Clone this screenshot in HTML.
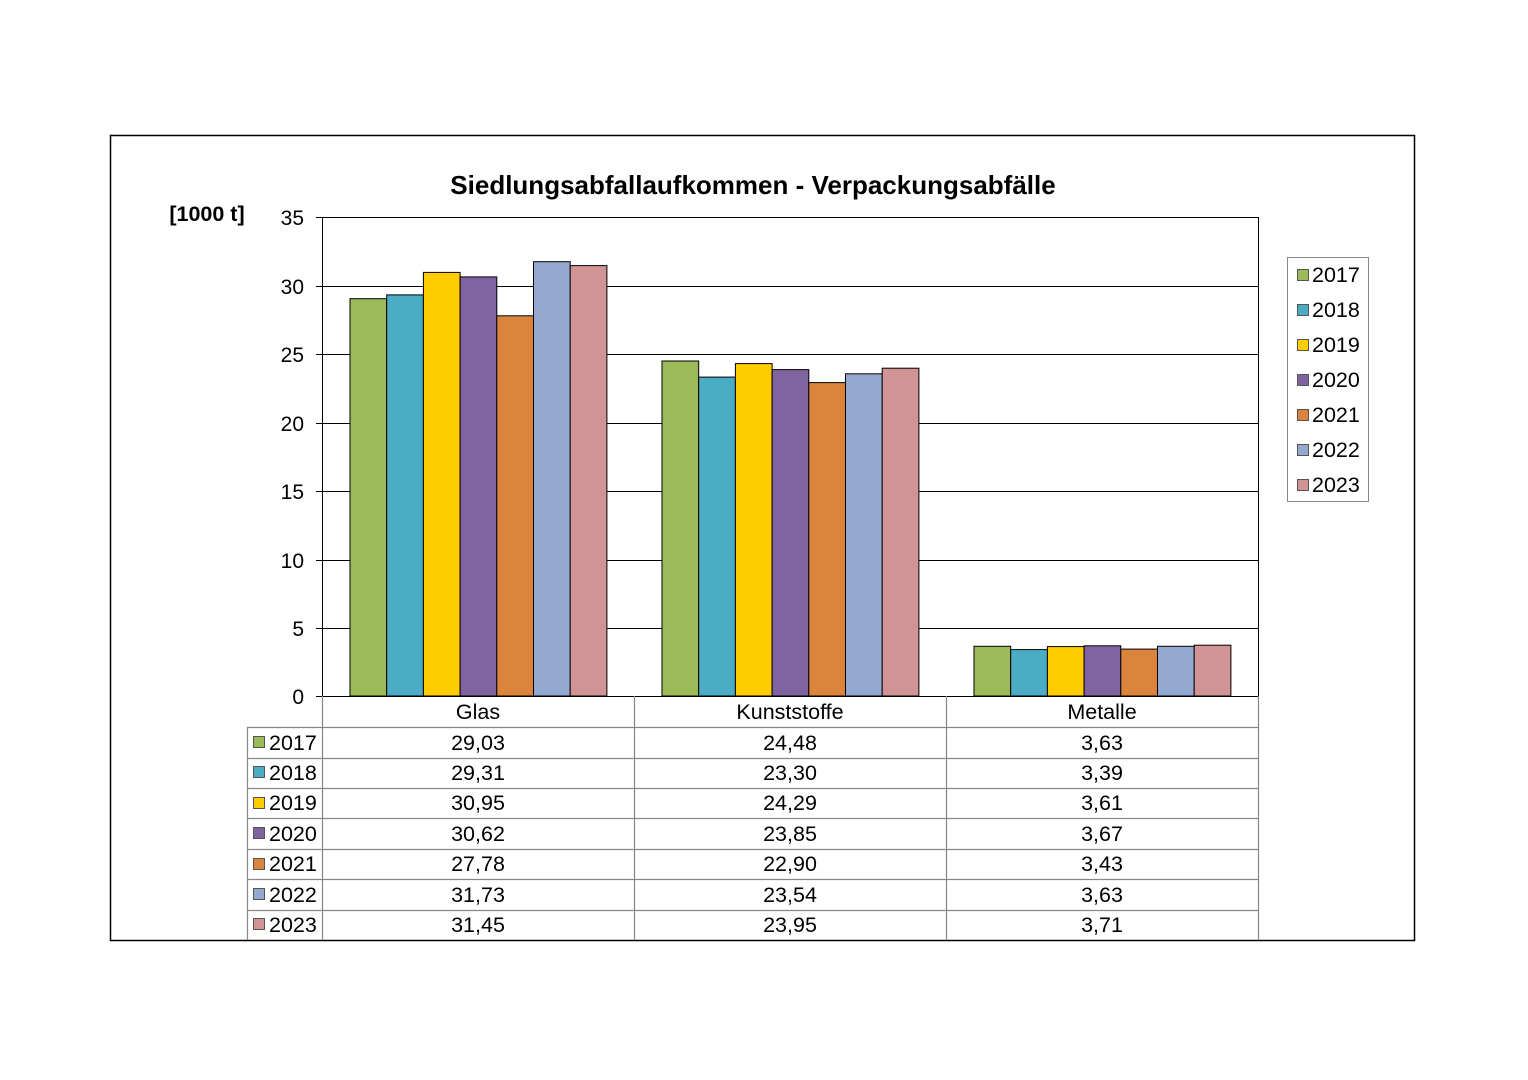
<!DOCTYPE html>
<html><head><meta charset="utf-8"><style>
html,body{margin:0;padding:0;background:#fff;}
svg{display:block;font-family:"Liberation Sans",Arial,sans-serif;}
</style></head><body>
<svg width="1528" height="1080" viewBox="0 0 1528 1080" xmlns="http://www.w3.org/2000/svg">
<rect x="110.5" y="135.5" width="1304" height="805" fill="#fff" stroke="#000" stroke-width="1.5"/>
<text x="753" y="194" text-anchor="middle" font-size="26" font-weight="bold">Siedlungsabfallaufkommen - Verpackungsabfälle</text>
<text x="207" y="221" text-anchor="middle" font-size="21.5" font-weight="bold">[1000 t]</text>
<g stroke="#000" stroke-width="1">
<line x1="316" y1="217.5" x2="1258" y2="217.5"/>
<line x1="316" y1="286.5" x2="1258" y2="286.5"/>
<line x1="316" y1="354.5" x2="1258" y2="354.5"/>
<line x1="316" y1="423.5" x2="1258" y2="423.5"/>
<line x1="316" y1="491.5" x2="1258" y2="491.5"/>
<line x1="316" y1="560.5" x2="1258" y2="560.5"/>
<line x1="316" y1="628.5" x2="1258" y2="628.5"/>
<line x1="316" y1="696.5" x2="1258" y2="696.5"/>
<line x1="322.5" y1="217" x2="322.5" y2="696"/>
<line x1="1258.5" y1="217" x2="1258.5" y2="696"/>
</g>
<g font-size="21" text-anchor="end">
<text x="304" y="225">35</text><text x="304" y="294">30</text><text x="304" y="362">25</text>
<text x="304" y="431">20</text><text x="304" y="499">15</text><text x="304" y="568">10</text>
<text x="304" y="636">5</text><text x="304" y="704">0</text>
</g>
<g stroke="#000" stroke-width="1">
<rect x="350" y="298.7" width="36.7" height="397.3" fill="#9BBB59"/>
<rect x="386.7" y="294.9" width="36.7" height="401.1" fill="#4BACC6"/>
<rect x="423.4" y="272.4" width="36.7" height="423.6" fill="#FFCC00"/>
<rect x="460.1" y="276.9" width="36.7" height="419.1" fill="#8064A2"/>
<rect x="496.8" y="315.8" width="36.7" height="380.2" fill="#DB843D"/>
<rect x="533.5" y="261.7" width="36.7" height="434.3" fill="#95A9D0"/>
<rect x="570.2" y="265.6" width="36.7" height="430.4" fill="#D09494"/>
<rect x="662" y="361" width="36.7" height="335" fill="#9BBB59"/>
<rect x="698.7" y="377.1" width="36.7" height="318.9" fill="#4BACC6"/>
<rect x="735.4" y="363.6" width="36.7" height="332.4" fill="#FFCC00"/>
<rect x="772.1" y="369.6" width="36.7" height="326.4" fill="#8064A2"/>
<rect x="808.8" y="382.6" width="36.7" height="313.4" fill="#DB843D"/>
<rect x="845.5" y="373.8" width="36.7" height="322.2" fill="#95A9D0"/>
<rect x="882.2" y="368.2" width="36.7" height="327.8" fill="#D09494"/>
<rect x="974" y="646.3" width="36.7" height="49.7" fill="#9BBB59"/>
<rect x="1010.7" y="649.6" width="36.7" height="46.4" fill="#4BACC6"/>
<rect x="1047.4" y="646.6" width="36.7" height="49.4" fill="#FFCC00"/>
<rect x="1084.1" y="645.8" width="36.7" height="50.2" fill="#8064A2"/>
<rect x="1120.8" y="649.1" width="36.7" height="46.9" fill="#DB843D"/>
<rect x="1157.5" y="646.3" width="36.7" height="49.7" fill="#95A9D0"/>
<rect x="1194.2" y="645.2" width="36.7" height="50.8" fill="#D09494"/>
</g>
<g stroke="#888" stroke-width="1.2" fill="none">
<line x1="322.5" y1="696" x2="322.5" y2="940"/>
<line x1="634.5" y1="696" x2="634.5" y2="940"/>
<line x1="946.5" y1="696" x2="946.5" y2="940"/>
<line x1="1258.5" y1="696" x2="1258.5" y2="940"/>
<line x1="247.5" y1="727" x2="247.5" y2="940"/>
<line x1="247" y1="727.5" x2="1258" y2="727.5"/>
<line x1="247" y1="758.5" x2="1258" y2="758.5"/>
<line x1="247" y1="788.5" x2="1258" y2="788.5"/>
<line x1="247" y1="818.5" x2="1258" y2="818.5"/>
<line x1="247" y1="849.5" x2="1258" y2="849.5"/>
<line x1="247" y1="879.5" x2="1258" y2="879.5"/>
<line x1="247" y1="910.5" x2="1258" y2="910.5"/>
</g>
<g font-size="21.5" text-anchor="middle">
<text x="478" y="719">Glas</text><text x="790" y="719">Kunststoffe</text><text x="1102" y="719">Metalle</text>
<text x="478" y="750">29,03</text><text x="790" y="750">24,48</text><text x="1102" y="750">3,63</text>
<text x="478" y="780">29,31</text><text x="790" y="780">23,30</text><text x="1102" y="780">3,39</text>
<text x="478" y="810">30,95</text><text x="790" y="810">24,29</text><text x="1102" y="810">3,61</text>
<text x="478" y="841">30,62</text><text x="790" y="841">23,85</text><text x="1102" y="841">3,67</text>
<text x="478" y="871">27,78</text><text x="790" y="871">22,90</text><text x="1102" y="871">3,43</text>
<text x="478" y="902">31,73</text><text x="790" y="902">23,54</text><text x="1102" y="902">3,63</text>
<text x="478" y="932">31,45</text><text x="790" y="932">23,95</text><text x="1102" y="932">3,71</text>
</g>
<g stroke="#555" stroke-width="1">
<rect x="253.5" y="736.5" width="11" height="11" fill="#9BBB59"/>
<rect x="253.5" y="766.5" width="11" height="11" fill="#4BACC6"/>
<rect x="253.5" y="797.5" width="11" height="11" fill="#FFCC00"/>
<rect x="253.5" y="827.5" width="11" height="11" fill="#8064A2"/>
<rect x="253.5" y="858.5" width="11" height="11" fill="#DB843D"/>
<rect x="253.5" y="888.5" width="11" height="11" fill="#95A9D0"/>
<rect x="253.5" y="918.5" width="11" height="11" fill="#D09494"/>
</g>
<g font-size="21.5">
<text x="269" y="750">2017</text><text x="269" y="780">2018</text><text x="269" y="810">2019</text>
<text x="269" y="841">2020</text><text x="269" y="871">2021</text><text x="269" y="902">2022</text>
<text x="269" y="932">2023</text>
</g>
<rect x="1287.5" y="257.5" width="81" height="244" fill="#fff" stroke="#888" stroke-width="1"/>
<g stroke="#555" stroke-width="1">
<rect x="1297.5" y="269.5" width="11" height="11" fill="#9BBB59"/>
<rect x="1297.5" y="304.5" width="11" height="11" fill="#4BACC6"/>
<rect x="1297.5" y="339.5" width="11" height="11" fill="#FFCC00"/>
<rect x="1297.5" y="374.5" width="11" height="11" fill="#8064A2"/>
<rect x="1297.5" y="409.5" width="11" height="11" fill="#DB843D"/>
<rect x="1297.5" y="444.5" width="11" height="11" fill="#95A9D0"/>
<rect x="1297.5" y="479.5" width="11" height="11" fill="#D09494"/>
</g>
<g font-size="21.5">
<text x="1312" y="282">2017</text><text x="1312" y="317">2018</text><text x="1312" y="352">2019</text>
<text x="1312" y="387">2020</text><text x="1312" y="422">2021</text><text x="1312" y="457">2022</text>
<text x="1312" y="492">2023</text>
</g>
</svg>
</body></html>
